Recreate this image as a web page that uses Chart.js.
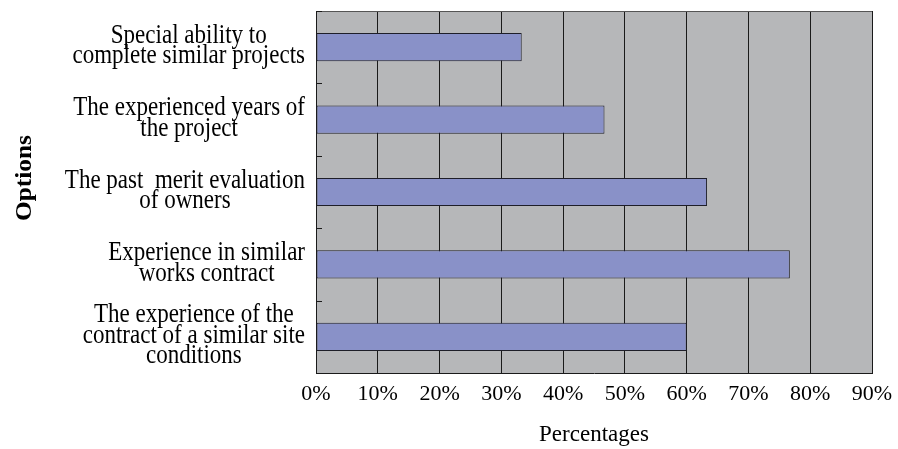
<!DOCTYPE html>
<html>
<head>
<meta charset="utf-8">
<title>Options by percentage</title>
<script src="https://cdn.jsdelivr.net/npm/chart.js@4.4.0/dist/chart.umd.min.js"></script>
<style>
  html, body { margin: 0; padding: 0; background: #fff; }
  #wrap { position: relative; width: 898px; height: 449px; }
</style>
</head>
<body>
<div id="wrap"><canvas id="barChart"></canvas></div>
<script>
// ── Data ──
const categories = [
  ['Special ability to', 'complete similar projects'],
  ['The experienced years of', 'the project'],
  ['The past  merit evaluation', 'of owners'],
  ['Experience in similar', 'works contract'],
  ['The experience of the', 'contract of a similar site', 'conditions']
];
const percentages = [33.3, 46.7, 63.3, 76.7, 60.0];
const tickLabels = ['0%', '10%', '20%', '30%', '40%', '50%', '60%', '70%', '80%', '90%'];

const SERIF = '"Liberation Serif", "Times New Roman", serif';
const LINE = '#1a1a1a';

// ── Plot frame, category ticks and multi-line labels ──
const plotFrame = {
  id: 'plotFrame',
  beforeDraw(chart) {
    const { ctx, chartArea: a } = chart;
    ctx.save();
    ctx.fillStyle = '#b6b7b9';
    ctx.fillRect(a.left, a.top, a.right - a.left, a.bottom - a.top);
    ctx.restore();
  },
  afterDraw(chart) {
    const { ctx, chartArea: a } = chart;
    const y = chart.scales.y;
    const labels = chart.data.labels;
    ctx.save();

    // top border of the plot
    ctx.strokeStyle = '#555';
    ctx.lineWidth = 1;
    ctx.beginPath();
    ctx.moveTo(a.left, a.top + 0.5);
    ctx.lineTo(a.right, a.top + 0.5);
    ctx.stroke();

    // small inward ticks between categories
    const band = Math.abs(y.getPixelForValue(1) - y.getPixelForValue(0));
    ctx.strokeStyle = LINE;
    for (let i = 0; i <= labels.length; i++) {
      const py = Math.round(y.getPixelForValue(i) - band / 2) + 0.5;
      ctx.beginPath();
      ctx.moveTo(a.left, py);
      ctx.lineTo(a.left + 6, py);
      ctx.stroke();
    }

    // category labels: block right-aligned, lines centred (glyphs a bit tall, like the source)
    ctx.fillStyle = '#000';
    ctx.font = '23px ' + SERIF;
    ctx.textAlign = 'center';
    ctx.textBaseline = 'middle';
    labels.forEach((lines, i) => {
      const w = Math.max(...lines.map(l => ctx.measureText(l).width));
      const cx = a.left - 11 - w / 2;
      const cy = y.getPixelForValue(i) - 1;
      lines.forEach((l, k) => {
        ctx.save();
        ctx.translate(cx, cy + (k - (lines.length - 1) / 2) * 20.5);
        ctx.scale(1, 1.15);
        ctx.fillText(l, 0, 0);
        ctx.restore();
      });
    });

    // y axis title
    ctx.font = 'bold 23px ' + SERIF;
    ctx.translate(25, 178);
    ctx.rotate(-Math.PI / 2);
    ctx.scale(1.1, 1);
    ctx.fillText('Options', 0, 0);
    ctx.restore();
  }
};

// ── Chart ──
new Chart(document.getElementById('barChart'), {
  type: 'bar',
  data: {
    labels: categories,
    datasets: [{
      data: percentages,
      backgroundColor: '#8991c8',
      borderColor: '#1e1e28',
      borderWidth: 1,
      borderSkipped: false,
      barPercentage: 0.39,
      categoryPercentage: 1
    }]
  },
  options: {
    indexAxis: 'y',
    responsive: true, maintainAspectRatio: false,
    animation: false,
    layout: { padding: { top: 11, right: 26, bottom: 0, left: 0 } },
    plugins: { legend: { display: false }, tooltip: { enabled: false } },
    scales: {
      x: {
        min: 0, max: 90,
        ticks: {
          stepSize: 10,
          callback: (v, i) => tickLabels[i],
          color: '#000',
          font: { family: SERIF, size: 22 },
          padding: 8
        },
        grid: { color: LINE, drawTicks: false },
        border: { color: LINE },
        title: {
          display: true, text: 'Percentages', color: '#000',
          font: { family: SERIF, size: 23 },
          padding: { top: 0, bottom: 0 }
        },
        afterFit: s => { s.height = 76; s.paddingLeft = 0; s.paddingRight = 0; }
      },
      y: {
        ticks: { display: false },
        grid: { display: false },
        border: { display: true, color: LINE },
        afterFit: s => { s.width = 316; }
      }
    }
  },
  plugins: [plotFrame]
});
</script>
</body>
</html>
